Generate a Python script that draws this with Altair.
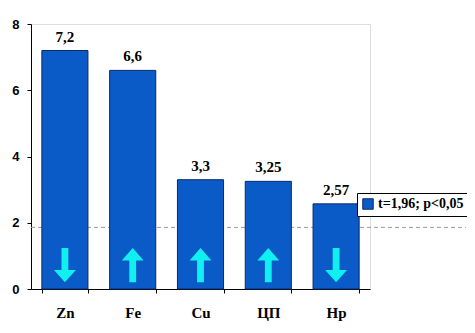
import altair as alt
import pandas as pd

categories = ["Zn", "Fe", "Cu", "ЦП", "Нр"]
values = [7.2, 6.6, 3.3, 3.25, 2.57]
value_labels = ["7,2", "6,6", "3,3", "3,25", "2,57"]
directions = ["down", "up", "up", "up", "down"]
arrow_level = [0.72, 0.72, 0.72, 0.72, 0.72]
threshold = 1.86
legend_label = "t=1,96; p<0,05"

df = pd.DataFrame({
    "cat": categories,
    "val": values,
    "lab": value_labels,
    "dir": directions,
    "arrow_y": arrow_level,
    "series": [legend_label] * len(categories),
})

UP = "M-0.2,1 L0.2,1 L0.2,-0.28 L0.64,-0.28 L0,-1 L-0.64,-0.28 L-0.2,-0.28 Z"
DOWN = "M-0.2,-1 L0.2,-1 L0.2,0.28 L0.64,0.28 L0,1 L-0.64,0.28 L-0.2,0.28 Z"

SERIF = "Liberation Serif"
SANS = "Liberation Sans"

xscale = alt.Scale(domain=categories, paddingInner=0.32, paddingOuter=0.16)
yscale = alt.Scale(domain=[0, 8], nice=False)

x = alt.X("cat:N", scale=xscale, sort=categories, title=None,
          axis=alt.Axis(labelAngle=0, labelFont=SERIF, labelFontSize=15,
                        labelFontWeight="bold", labelColor="black", labelPadding=12,
                        domainColor="black", tickColor="black", tickSize=4,
                        tickBand="extent", grid=False))

base = alt.Chart(df)

bars = base.mark_bar(stroke="#0a2a6a", strokeWidth=1).encode(
    x=x,
    y=alt.Y("val:Q", scale=yscale, title=None,
            axis=alt.Axis(values=[0, 2, 4, 6, 8], labelFont=SANS,
                          labelFontSize=13, labelFontWeight="bold", labelColor="black",
                          labelPadding=8, domainColor="black", tickColor="black",
                          tickSize=4, grid=False)),
    color=alt.Color("series:N", scale=alt.Scale(range=["#0A5BC8"]), title=None,
                    legend=alt.Legend(orient="none", legendX=326, legendY=169,
                                      strokeColor="black", fillColor="white",
                                      padding=4, symbolType="square", symbolSize=110,
                                      symbolStrokeColor="#0a2a6a", symbolStrokeWidth=1,
                                      labelFont=SERIF, labelFontSize=14,
                                      labelFontWeight="bold", labelColor="black",
                                      labelOffset=3, labelLimit=200)),
)

labels = base.mark_text(baseline="bottom", dy=-6, font=SERIF,
                        fontSize=15, fontWeight="bold", color="black").encode(
    x=alt.X("cat:N", scale=xscale, sort=categories),
    y=alt.Y("val:Q", scale=yscale),
    text="lab:N",
)

arrows = base.mark_point(filled=True, opacity=1, size=1160, color="#10F0F0").encode(
    x=alt.X("cat:N", scale=xscale, sort=categories),
    y=alt.Y("arrow_y:Q", scale=yscale),
    shape=alt.Shape("dir:N", scale=alt.Scale(domain=["up", "down"], range=[UP, DOWN]),
                    legend=None),
)

rule = alt.Chart(pd.DataFrame({"t": [threshold]})).mark_rule(
    color="#9a9a9a", strokeDash=[4, 3], strokeWidth=1, clip=False).encode(
    y=alt.Y("t:Q", scale=yscale),
    x=alt.value(0),
    x2=alt.value(435),
)

chart = alt.layer(rule, bars, labels, arrows).properties(
    width=339, height=265,
    autosize=alt.AutoSizeParams(type="none"),
    padding={"left": 23, "top": 16, "right": 97, "bottom": 36},
).configure_view(stroke=None).configure(background="white")

chart.save("out.html", embed_options={"renderer": "svg", "actions": False})
